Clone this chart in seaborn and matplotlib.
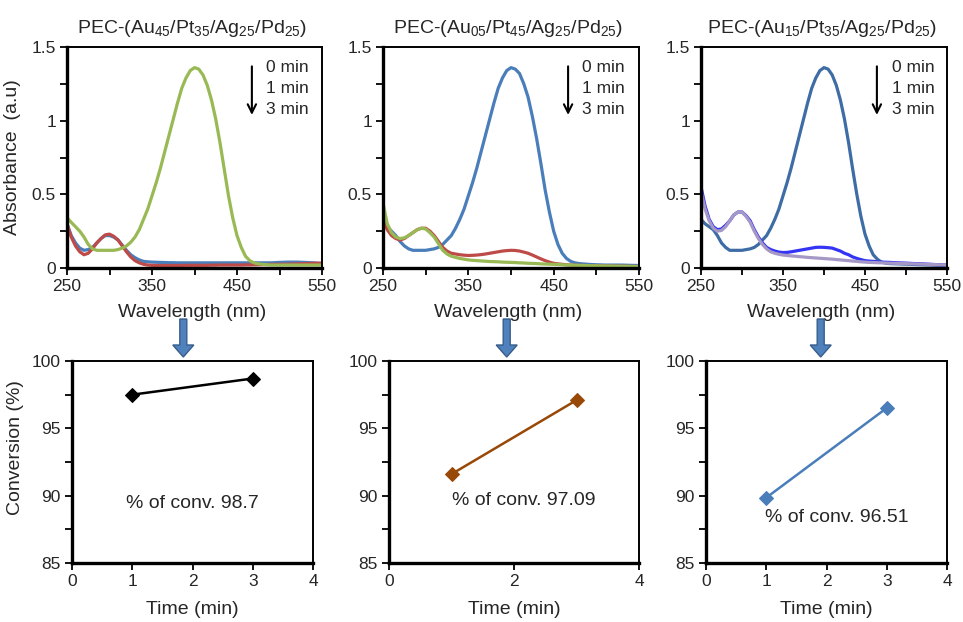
import numpy as np
import pandas as pd
import matplotlib
matplotlib.use("Agg")
import matplotlib.pyplot as plt
from matplotlib.patches import FancyArrow
import seaborn as sns

# ---------------- data ----------------
# wavelength grid: 5 nm steps to 480 nm, then 10 nm steps
wavelength = [250, 255, 260, 265, 270, 275, 280, 285, 290, 295,
              300, 305, 310, 315, 320, 325, 330, 335, 340, 345,
              350, 355, 360, 365, 370, 375, 380, 385, 390, 395,
              400, 405, 410, 415, 420, 425, 430, 435, 440, 445,
              450, 455, 460, 465, 470, 475, 480,
              490, 500, 510, 520, 530, 540, 550]

# Panel 1: PEC-(Au45/Pt35/Ag25/Pd25)
p1_blue = [0.30, 0.22, 0.17, 0.135, 0.12, 0.125, 0.14, 0.17, 0.20, 0.22,
           0.22, 0.21, 0.19, 0.155, 0.12, 0.09, 0.07, 0.055, 0.045, 0.042,
           0.040, 0.039, 0.038, 0.037, 0.036, 0.036, 0.035, 0.035, 0.035, 0.035,
           0.035, 0.035, 0.035, 0.035, 0.035, 0.035, 0.035, 0.035, 0.035, 0.035,
           0.035, 0.035, 0.035, 0.035, 0.035, 0.035, 0.035,
           0.035, 0.038, 0.040, 0.040, 0.038, 0.035, 0.030]
p1_red = [0.30, 0.21, 0.15, 0.11, 0.09, 0.10, 0.13, 0.17, 0.20, 0.225,
          0.23, 0.215, 0.19, 0.15, 0.11, 0.075, 0.05, 0.035, 0.025, 0.02,
          0.018, 0.017, 0.017, 0.017, 0.017, 0.017, 0.017, 0.017, 0.018, 0.018,
          0.018, 0.018, 0.018, 0.018, 0.019, 0.019, 0.020, 0.020, 0.020, 0.020,
          0.020, 0.020, 0.021, 0.021, 0.022, 0.022, 0.023,
          0.024, 0.025, 0.026, 0.028, 0.030, 0.032, 0.033]
p1_green = [0.34, 0.31, 0.28, 0.25, 0.21, 0.16, 0.13, 0.12, 0.12, 0.12,
            0.12, 0.12, 0.125, 0.135, 0.15, 0.175, 0.21, 0.26, 0.33, 0.40,
            0.49, 0.58, 0.68, 0.79, 0.90, 1.01, 1.12, 1.22, 1.29, 1.34,
            1.36, 1.35, 1.31, 1.24, 1.14, 1.01, 0.85, 0.67, 0.49, 0.34,
            0.22, 0.14, 0.08, 0.05, 0.035, 0.028, 0.025,
            0.02, 0.02, 0.02, 0.02, 0.02, 0.02, 0.02]

# Panel 2: PEC-(Au05/Pt45/Ag25/Pd25)
p2_blue = [0.29, 0.28, 0.25, 0.22, 0.18, 0.15, 0.13, 0.12, 0.12, 0.12,
           0.12, 0.125, 0.13, 0.14, 0.16, 0.19, 0.22, 0.27, 0.33, 0.40,
           0.49, 0.58, 0.68, 0.79, 0.90, 1.01, 1.12, 1.22, 1.29, 1.34,
           1.36, 1.35, 1.32, 1.25, 1.16, 1.03, 0.88, 0.71, 0.53, 0.38,
           0.25, 0.16, 0.10, 0.065, 0.045, 0.035, 0.03,
           0.025, 0.022, 0.02, 0.02, 0.02, 0.018, 0.017]
p2_red = [0.33, 0.26, 0.22, 0.20, 0.19, 0.20, 0.22, 0.24, 0.26, 0.27,
          0.27, 0.25, 0.22, 0.18, 0.14, 0.115, 0.10, 0.095, 0.09, 0.087,
          0.085, 0.086, 0.088, 0.091, 0.095, 0.10, 0.105, 0.11, 0.115, 0.118,
          0.12, 0.119, 0.115, 0.108, 0.10, 0.088, 0.075, 0.062, 0.05, 0.04,
          0.032, 0.028, 0.025, 0.022, 0.02, 0.019, 0.018,
          0.016, 0.015, 0.014, 0.013, 0.012, 0.011, 0.01]
p2_green = [0.44, 0.30, 0.24, 0.21, 0.20, 0.205, 0.22, 0.24, 0.26, 0.27,
            0.265, 0.24, 0.21, 0.165, 0.12, 0.095, 0.08, 0.072, 0.065, 0.06,
            0.055, 0.052, 0.05, 0.048, 0.046, 0.044, 0.043, 0.042, 0.04, 0.039,
            0.038, 0.037, 0.035, 0.034, 0.032, 0.031, 0.03, 0.028, 0.027, 0.026,
            0.025, 0.024, 0.022, 0.021, 0.02, 0.019, 0.018,
            0.016, 0.015, 0.014, 0.013, 0.012, 0.011, 0.01]

# Panel 3: PEC-(Au15/Pt35/Ag25/Pd25)
p3_dark = [0.33, 0.30, 0.28, 0.26, 0.22, 0.17, 0.14, 0.12, 0.12, 0.12,
           0.12, 0.125, 0.13, 0.14, 0.16, 0.19, 0.22, 0.27, 0.33, 0.40,
           0.49, 0.58, 0.68, 0.79, 0.90, 1.01, 1.12, 1.22, 1.29, 1.34,
           1.36, 1.35, 1.31, 1.24, 1.14, 1.01, 0.85, 0.67, 0.50, 0.35,
           0.23, 0.15, 0.09, 0.06, 0.04, 0.033, 0.03,
           0.028, 0.026, 0.024, 0.022, 0.02, 0.018, 0.015]
p3_bright = [0.55, 0.42, 0.33, 0.28, 0.26, 0.265, 0.29, 0.32, 0.36, 0.38,
             0.38, 0.355, 0.32, 0.26, 0.21, 0.17, 0.14, 0.125, 0.115, 0.108,
             0.105, 0.106, 0.11, 0.115, 0.12, 0.125, 0.13, 0.135, 0.14, 0.141,
             0.14, 0.138, 0.135, 0.125, 0.115, 0.10, 0.09, 0.075, 0.065, 0.057,
             0.05, 0.047, 0.045, 0.042, 0.04, 0.039, 0.038,
             0.035, 0.033, 0.03, 0.028, 0.025, 0.022, 0.02]
p3_lav = [0.52, 0.40, 0.32, 0.27, 0.25, 0.255, 0.28, 0.32, 0.36, 0.38,
          0.38, 0.35, 0.31, 0.25, 0.20, 0.16, 0.13, 0.11, 0.10, 0.093,
          0.088, 0.085, 0.082, 0.08, 0.077, 0.075, 0.072, 0.07, 0.068, 0.066,
          0.064, 0.062, 0.06, 0.057, 0.055, 0.052, 0.05, 0.047, 0.045, 0.042,
          0.04, 0.038, 0.037, 0.036, 0.035, 0.034, 0.033,
          0.031, 0.03, 0.028, 0.026, 0.024, 0.022, 0.02]

titles = [r"PEC-(Au$_{\mathrm{45}}$/Pt$_{\mathrm{35}}$/Ag$_{\mathrm{25}}$/Pd$_{\mathrm{25}}$)",
          r"PEC-(Au$_{\mathrm{05}}$/Pt$_{\mathrm{45}}$/Ag$_{\mathrm{25}}$/Pd$_{\mathrm{25}}$)",
          r"PEC-(Au$_{\mathrm{15}}$/Pt$_{\mathrm{35}}$/Ag$_{\mathrm{25}}$/Pd$_{\mathrm{25}}$)"]
time_labels = ["0 min", "1 min", "3 min"]

# conversion panels
conv_time = [1, 3]
conv1 = [97.5, 98.7]
conv2 = [91.6, 97.09]
conv3 = [89.85, 96.51]
conv_text = ["% of conv. 98.7", "% of conv. 97.09", "% of conv. 96.51"]

spectra = [
    [("a", p1_blue), ("b", p1_red), ("c", p1_green)],
    [("a", p2_blue), ("b", p2_red), ("c", p2_green)],
    [("a", p3_dark), ("b", p3_bright), ("c", p3_lav)],
]
spec_colors = [
    ["#4a7ebb", "#be4b48", "#98b954"],
    ["#4a7ebb", "#be4b48", "#98b954"],
    ["#3e6da5", "#3434f5", "#a597c6"],
]
convs = [conv1, conv2, conv3]
conv_colors = ["#000000", "#984807", "#4a7ebb"]

# ---------------- style ----------------
sns.set_theme(style="white")
plt.rcParams["font.family"] = ["Liberation Sans", "DejaVu Sans"]
plt.rcParams["mathtext.fontset"] = "custom"
plt.rcParams["mathtext.rm"] = "Liberation Sans"
plt.rcParams["mathtext.it"] = "Liberation Sans:italic"
plt.rcParams["mathtext.bf"] = "Liberation Sans:bold"
plt.rcParams["lines.solid_joinstyle"] = "round"
plt.rcParams["lines.solid_capstyle"] = "round"

W, H = 963, 622
fig = plt.figure(figsize=(W / 100, H / 100), dpi=100)
fig.patch.set_facecolor("white")


def px_axes(l, r, t, b):
    return fig.add_axes([l / W, 1 - b / H, (r - l) / W, (b - t) / H])


top_boxes = [(67, 322, 47, 268), (383, 639, 47, 268), (701, 947, 47, 268)]
bot_boxes = [(72, 313, 361, 563), (389, 639, 361, 563), (706, 947, 361, 563)]
arrow_inner = [(0.725, 0.780), (0.723, 0.777), (0.715, 0.776)]
conv_pos = [(0.9, 89.45), (1.0, 89.65), (0.98, 88.37)]


def style_spines(ax):
    for s in ["left", "bottom"]:
        ax.spines[s].set_linewidth(2.4)
        ax.spines[s].set_color("black")
    for s in ["top", "right"]:
        ax.spines[s].set_linewidth(1.4)
        ax.spines[s].set_color("black")
    ax.tick_params(which="both", direction="out", length=5, width=1.3, color="black",
                   labelsize=12.5, pad=3, bottom=True, left=True)


for i in range(3):
    ax = px_axes(*top_boxes[i])
    rows = []
    for name, vals in spectra[i]:
        for w, v in zip(wavelength, vals):
            rows.append({"wl": w, "abs": v, "series": name})
    df = pd.DataFrame(rows)
    sns.lineplot(data=df, x="wl", y="abs", hue="series", palette=spec_colors[i],
                 ax=ax, legend=False, linewidth=2.3, estimator=None, sort=True)
    ax.set_xlim(250, 550)
    ax.set_ylim(0, 1.5)
    ax.set_xticks([250, 350, 450, 550])
    ax.set_xticks([300, 400, 500], minor=True)
    ax.set_yticks([0, 0.5, 1, 1.5])
    ax.set_yticklabels(["0", "0.5", "1", "1.5"])
    ax.set_yticks([0.25, 0.75, 1.25], minor=True)
    style_spines(ax)
    ax.set_xlabel("Wavelength (nm)", fontsize=14, labelpad=0)
    ax.xaxis.set_label_coords(0.49, -0.165)
    if i == 0:
        ax.set_ylabel("Absorbance  (a.u)", fontsize=14)
        ax.yaxis.set_label_coords(-0.18, 0.5)
    else:
        ax.set_ylabel("")
    ax.text(0.49, 1.085, titles[i], transform=ax.transAxes, ha="center", va="center", fontsize=14)
    ax_x, tx_x = arrow_inner[i]
    ax.annotate("", xy=(ax_x, 0.68), xytext=(ax_x, 0.925), xycoords="axes fraction",
                arrowprops=dict(arrowstyle="->,head_length=0.5,head_width=0.25", color="black", lw=1.5))
    for k, lab in enumerate(time_labels):
        ax.text(tx_x, 0.905 - k * 0.093, lab, transform=ax.transAxes, ha="left", va="center", fontsize=12.5)

for i in range(3):
    ax = px_axes(*bot_boxes[i])
    dfc = pd.DataFrame({"t": conv_time, "c": convs[i]})
    sns.lineplot(data=dfc, x="t", y="c", ax=ax, color=conv_colors[i], linewidth=1.8,
                 marker="D", markersize=7, markeredgecolor=conv_colors[i], estimator=None)
    ax.set_xlim(0, 4)
    ax.set_ylim(85, 100)
    if i == 1:
        ax.set_xticks([0, 2, 4])
    else:
        ax.set_xticks([0, 1, 2, 3, 4])
    ax.set_yticks([85, 90, 95, 100])
    ax.set_yticks([87.5, 92.5, 97.5], minor=True)
    style_spines(ax)
    ax.set_xlabel("Time (min)", fontsize=14)
    ax.xaxis.set_label_coords(0.5, -0.19)
    if i == 0:
        ax.set_ylabel("Conversion (%)", fontsize=14)
        ax.yaxis.set_label_coords(-0.2, 0.57)
    else:
        ax.set_ylabel("")
    cx, cy = conv_pos[i]
    ax.text(cx, cy, conv_text[i], ha="left", va="center", fontsize=14)

# blue block arrows between rows (in inches)
for cx in [183.3, 506.7, 820.7]:
    x_in = cx / 100
    y_top = (H - 319) / 100
    length = (357 - 319) / 100
    arr = FancyArrow(x_in, y_top, 0, -length, width=0.07, head_width=0.21, head_length=0.12,
                     length_includes_head=True, transform=fig.dpi_scale_trans,
                     facecolor="#4f81bd", edgecolor="#385d8a", linewidth=1.0)
    fig.add_artist(arr)

fig.savefig("out.png", dpi=100, facecolor="white")
